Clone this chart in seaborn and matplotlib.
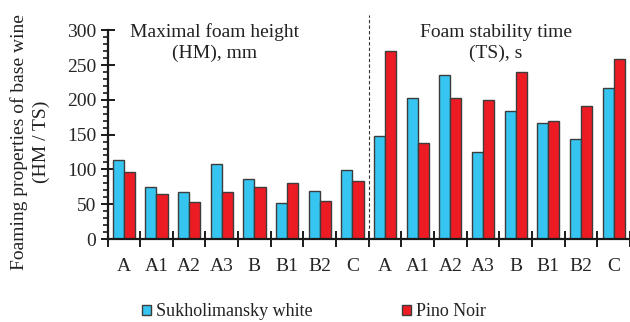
import matplotlib
matplotlib.use("Agg")
import matplotlib.pyplot as plt
from matplotlib.font_manager import FontProperties
import seaborn as sns
import pandas as pd
import numpy as np

# ---- data ----
categories = ["A", "A1", "A2", "A3", "B", "B1", "B2", "C"]
hm_sukholimansky = [113, 74, 68, 108, 86, 52, 69, 99]
hm_pino = [96, 64, 53, 68, 74, 80, 54, 83]
ts_sukholimansky = [148, 203, 236, 125, 184, 167, 144, 217]
ts_pino = [270, 138, 202, 199, 240, 169, 191, 258]
varieties = ["Sukholimansky white", "Pino Noir"]
group_titles = ["Maximal foam height\n(HM), mm", "Foam stability time\n(TS), s"]
y_label = "Foaming properties of base wine\n(HM / TS)"

keys_hm = ["HM " + c for c in categories]
keys_ts = ["TS " + c for c in categories]
keys = keys_hm + keys_ts
tick_labels = categories + categories

df = pd.DataFrame({
    "key": keys * 2,
    "value": hm_sukholimansky + ts_sukholimansky + hm_pino + ts_pino,
    "variety": [varieties[0]] * 16 + [varieties[1]] * 16,
})

sns.set_theme(style="white")
plt.rcParams["font.family"] = ["Liberation Serif", "DejaVu Serif"]
FS = 14

fig = plt.figure(figsize=(6.30, 3.22), dpi=100)
W, H = 630.0, 322.0
ax = fig.add_axes([107.5 / W, (H - 239) / H, (630 - 107.5) / W, 208.8 / H])

blue = "#36C5F0"
red = "#ED1C24"
sns.barplot(data=df, x="key", y="value", hue="variety", order=keys,
            hue_order=varieties, palette=[blue, red], width=0.68,
            edgecolor="#3c3c3c", linewidth=1.0, ax=ax, legend=True,
            saturation=1)

ax.set_xlim(-0.5, 15.5)
ax.set_ylim(0, 300)

# spines
for s in ["top", "right"]:
    ax.spines[s].set_visible(False)
for s in ["left", "bottom"]:
    ax.spines[s].set_color("#1a1a1a")
    ax.spines[s].set_linewidth(1.6)

# y ticks
ax.set_yticks(np.arange(0, 301, 50))
ax.set_yticks(np.arange(0, 301, 10), minor=True)
ax.tick_params(axis="y", which="major", direction="inout", length=10,
               width=1.4, color="#1a1a1a", labelsize=FS, pad=3, left=True)
ax.tick_params(axis="y", which="minor", direction="out", length=3.6,
               width=1.2, color="#1a1a1a", left=True)

# x ticks: separators at boundaries, labels at centers
ax.set_xticks(np.arange(-0.5, 16, 1.0))
ax.set_xticklabels([""] * 17)
ax.set_xticks(np.arange(16), minor=True)
ax.set_xticklabels(tick_labels, minor=True)
ax.tick_params(axis="x", which="major", direction="inout", length=11,
               width=1.4, color="#1a1a1a", bottom=True)
ax.tick_params(axis="x", which="minor", length=0, labelsize=FS, pad=14,
               bottom=True)
ax.set_xlabel("")
ax.set_ylabel("")

# divider
ax.axvline(7.5, ymin=-0.03, ymax=1.075, color="#333333", linestyle=(0, (3, 2)),
           linewidth=0.8, clip_on=False)

# group titles
ax.text(2.79, 282, group_titles[0], ha="center", va="center", fontsize=FS,
        linespacing=1.25, color="#222222")
ax.text(11.4, 282, group_titles[1], ha="center", va="center", fontsize=FS,
        linespacing=1.25, color="#222222")

fig.text(30 / W, 1 - 142 / H, y_label, rotation=90, ha="center", va="center",
         fontsize=FS, linespacing=1.35, multialignment="center", color="#222222")

old = ax.get_legend()
handles = old.legend_handles
labels = [t.get_text() for t in old.texts]
old.remove()
leg = ax.legend(handles, labels, loc="center left",
                bbox_to_anchor=(142 / W, 1 - 312 / H),
                bbox_transform=fig.transFigure, ncol=2, frameon=False,
                prop=FontProperties(family="Liberation Serif", size=13),
                handlelength=0.5, handleheight=0.5, handletextpad=0.3,
                columnspacing=4.9, borderpad=0, borderaxespad=0)
for t in leg.get_texts():
    t.set_color("#222222")

fig.savefig("out.png", dpi=100)
